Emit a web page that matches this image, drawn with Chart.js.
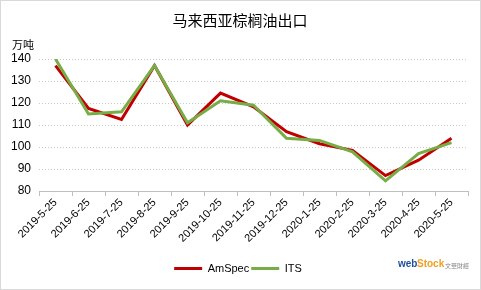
<!DOCTYPE html>
<html><head><meta charset="utf-8">
<script src="https://cdn.jsdelivr.net/npm/chart.js@4"></script>
<style>html,body{margin:0;padding:0;background:#fff}#wrap{position:relative;width:481px;height:290px}</style>
</head><body><div id="wrap"><canvas id="c" width="481" height="290"></canvas></div>
<script>
const categories = ["2019-5-25","2019-6-25","2019-7-25","2019-8-25","2019-9-25","2019-10-25","2019-11-25","2019-12-25","2020-1-25","2020-2-25","2020-3-25","2020-4-25","2020-5-25"];
const amspec = [137, 117.5, 112.5, 137, 110, 124.5, 118.3, 107, 101.5, 98.5, 87, 94, 104];
const its = [140, 115, 116, 137, 111, 121, 119, 104, 103, 97.8, 84.6, 97, 102];
const yTicks = [80, 90, 100, 110, 120, 130, 140];
const titleText = "马来西亚棕榈油出口";
const unitText = "万吨";
const FONT = "'Noto Sans CJK SC', 'Liberation Sans', sans-serif";
const LATIN = "'Liberation Sans', 'Noto Sans CJK SC', sans-serif";

const deco = {
  id: 'deco',
  afterDraw(chart) {
    const ctx = chart.ctx;
    ctx.save();
    ctx.strokeStyle = '#d9d9d9';
    ctx.lineWidth = 1;
    ctx.strokeRect(0.5, 0.5, 480, 289);
    ctx.fillStyle = '#000';
    ctx.font = "15px " + FONT;
    ctx.textAlign = 'center';
    ctx.textBaseline = 'middle';
    ctx.fillText(titleText, 240, 20);
    ctx.font = "11px " + FONT;
    ctx.textAlign = 'left';
    ctx.fillText(unitText, 12, 45);
    // logo text
    ctx.font = "bold 10px 'Liberation Sans', sans-serif";
    ctx.fillStyle = '#1f4e9e';
    ctx.fillText('web', 398, 264);
    ctx.fillStyle = '#f0a020';
    ctx.fillText('Stock', 417, 264);
    ctx.fillStyle = '#888';
    ctx.font = "6px " + FONT;
    ctx.fillText('文華財經', 445, 266);
    ctx.restore();
  }
};

new Chart(document.getElementById('c'), {
  type: 'line',
  data: {
    labels: categories,
    datasets: [
      { label: 'AmSpec', data: amspec, borderColor: '#c00000', backgroundColor: '#c00000', borderWidth: 3, pointRadius: 0, tension: 0, order: 1 },
      { label: 'ITS', data: its, borderColor: '#77ad47', backgroundColor: '#77ad47', borderWidth: 3, pointRadius: 0, tension: 0, order: 0 }
    ]
  },
  options: {
    responsive: false,
    animation: false,
    layout: { padding: { top: 59, left: 8, right: 13, bottom: 6 } },
    plugins: {
      title: { display: false },
      tooltip: { enabled: false },
      legend: {
        position: 'bottom',
        labels: {
          font: { family: LATIN, size: 11 },
          color: '#000',
          boxWidth: 28,
          boxHeight: 3,
          padding: 2,
          generateLabels(chart) {
            return chart.data.datasets.map((d, i) => ({
              text: d.label, fillStyle: d.borderColor, strokeStyle: d.borderColor, lineWidth: 0, datasetIndex: i
            }));
          }
        }
      }
    },
    scales: {
      x: {
        offset: true,
        grid: { drawOnChartArea: false, drawTicks: true, tickLength: 5, color: '#bfbfbf', offset: true },
        border: { display: true, color: '#bfbfbf' },
        ticks: { minRotation: 45, maxRotation: 45, font: { family: LATIN, size: 11 }, color: '#000', padding: 0, autoSkip: false },
        afterFit(s) { s.height = 70; }
      },
      y: {
        min: 80, max: 140,
        afterBuildTicks(s) { s.ticks = yTicks.map(v => ({ value: v })); },
        grid: { color: '#c8c8c8', drawTicks: false },
        border: { display: false, dash: [1, 2] },
        ticks: { font: { family: LATIN, size: 12 }, color: '#000', padding: 8 },
        afterFit(s) { s.width = 31; }
      }
    }
  },
  plugins: [deco]
});
</script></body></html>
